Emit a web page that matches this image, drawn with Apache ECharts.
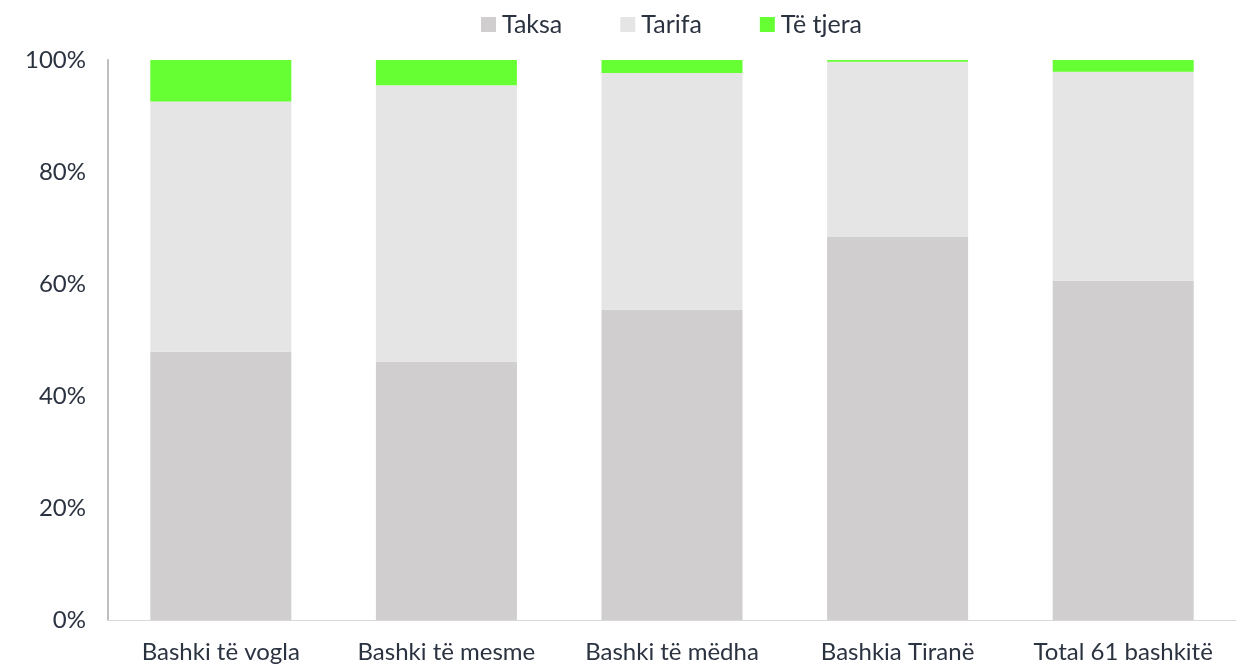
<!DOCTYPE html>
<html>
<head>
<meta charset="utf-8">
<script src="https://cdn.jsdelivr.net/npm/echarts@6/dist/echarts.min.js"></script>
<style>
html, body { margin: 0; padding: 0; background: #fff; }
#chart { width: 1242px; height: 667px; }
</style>
</head>
<body>
<div id="chart"></div>
<script>
// kategoritë dhe vlerat (%)
var categories = ['Bashki të vogla', 'Bashki të mesme', 'Bashki të mëdha', 'Bashkia Tiranë', 'Total 61 bashkitë'];
var taksa = [47.9, 46.1, 55.4, 68.4, 60.6];
var tarifa = [44.7, 49.4, 42.3, 31.3, 37.3];
var teTjera = [7.4, 4.5, 2.3, 0.3, 2.1];
var yTicks = [0, 20, 40, 60, 80, 100];

var textColor = '#2b3340';
var fontFam = 'Lato, "Open Sans", sans-serif';

var chart = echarts.init(document.getElementById('chart'));
var option = {
    animation: false,
    textStyle: { fontFamily: fontFam },
    legend: {
        top: 7,
        left: 476,
        itemWidth: 15,
        itemHeight: 15,
        itemGap: 58,
        icon: 'rect',
        textStyle: { fontSize: 25, color: textColor, fontFamily: fontFam, padding: [0, 0, 0, 1] },
        data: ['Taksa', 'Tarifa', 'Të tjera']
    },
    grid: { left: 108, right: 6, top: 60, bottom: 47 },
    xAxis: {
        type: 'category',
        data: categories,
        axisLine: { lineStyle: { color: '#d9d9d9', width: 1 } },
        axisTick: { show: false },
        axisLabel: { interval: 0, fontSize: 24, color: textColor, margin: 20 }
    },
    yAxis: {
        type: 'value',
        min: yTicks[0],
        max: yTicks[yTicks.length - 1],
        interval: 20,
        axisLine: { show: true, lineStyle: { color: '#bfbfbf', width: 2 } },
        axisTick: { show: false },
        splitLine: { show: false },
        axisLabel: { fontSize: 24, color: textColor, margin: 22, formatter: '{value}%' }
    },
    series: [
        { name: 'Taksa', type: 'bar', stack: 'total', barWidth: '62.5%', data: taksa, itemStyle: { color: '#d0cecf' } },
        { name: 'Tarifa', type: 'bar', stack: 'total', data: tarifa, itemStyle: { color: '#e5e5e5' } },
        { name: 'Të tjera', type: 'bar', stack: 'total', data: teTjera, itemStyle: { color: '#66ff33' } }
    ]
};
chart.setOption(option);
</script>
</body>
</html>
